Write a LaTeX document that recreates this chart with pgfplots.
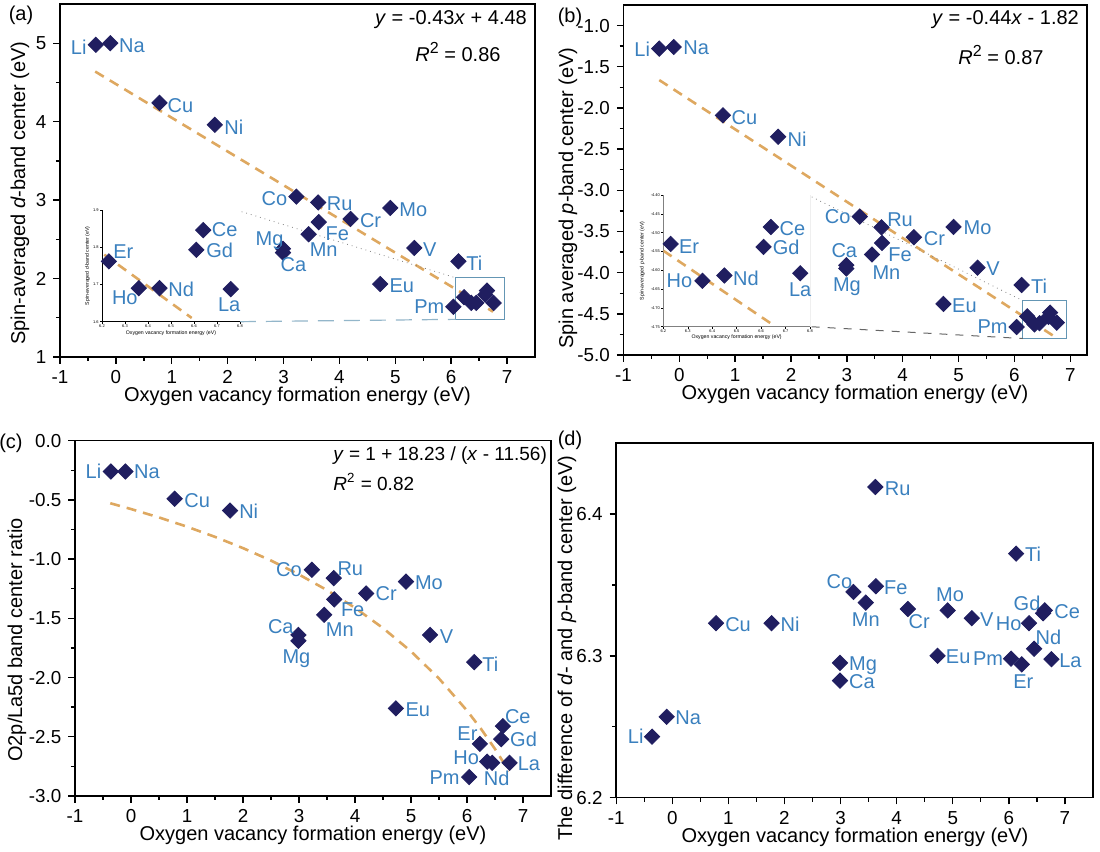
\documentclass[border=0pt]{standalone}
\usepackage{fontspec}
\setmainfont{Liberation Sans}
\usepackage{pgfplots}
\usepackage{pgfplotstable}
\pgfplotsset{compat=1.18}
\definecolor{navy}{RGB}{32,30,96}
\definecolor{lblue}{RGB}{58,128,190}
\definecolor{tan}{RGB}{222,168,96}
\definecolor{boxc}{RGB}{100,150,180}

% ---------- data ----------
\pgfplotstableread{
lab x y dx dy
Li -0.36 4.98 -8.5 -1
Na -0.10 5.00 10.8 -1
Cu 0.78 4.24 10.5 -1.5
Ni 1.77 3.96 9.5 -1
Co 3.23 3.045 -11 -0.8
Ru 3.62 2.97 10.8 -0.5
Fe 3.63 2.72 9.3 -5.8
Mn 3.45 2.565 7.5 -7.8
Cr 4.20 2.76 10 -0.8
Mo 4.91 2.90 11.5 -0.8
Mg 2.99 2.38 -6.7 4.2
Ca 2.99 2.33 5.2 -5.8
V 5.34 2.39 7.8 -0.8
Ti 6.13 2.22 8 -0.8
Eu 4.73 1.93 10.8 -0.8
Pm 6.04 1.64 -12 0
}\dataA
\pgfplotstableread{
lab x y dx dy
Er 6.23 1.762 7.2 5
Ho 6.36 1.69 -7 -5
Nd 6.45 1.69 10.8 -0.8
Gd 6.61 1.793 11.7 -0.3
Ce 6.64 1.846 10.7 0
La 6.76 1.6875 -0.8 -7.8
}\clusterA
\pgfplotstableread{
lab x y dx dy
Li -0.36 -1.28 -8.5 -0.5
Na -0.10 -1.26 11.2 -0.5
Cu 0.78 -2.09 10.8 -1
Ni 1.77 -2.35 9.5 -1
Co 3.23 -3.32 -11 0
Ru 3.62 -3.45 9.3 4
Fe 3.63 -3.64 9 -5.7
Mn 3.45 -3.78 7.2 -8.8
Ca 2.99 -3.91 -1 7.5
Mg 2.99 -3.95 0.3 -9.2
Cr 4.20 -3.57 10.3 -0.5
Mo 4.91 -3.445 12 -0.5
V 5.34 -3.94 7.8 -0.5
Ti 6.13 -4.15 8.7 -0.8
Eu 4.73 -4.38 10.5 -0.7
Pm 6.04 -4.66 -12 0.3
}\dataB
\pgfplotstableread{
lab x y dx dy
Er 6.23 -4.53 9.2 -1.3
Ho 6.36 -4.628 -11.5 0
Nd 6.45 -4.614 10.8 -1.2
Gd 6.61 -4.538 11.3 -0.3
Ce 6.64 -4.485 10.8 -0.8
La 6.76 -4.608 0 -8.2
}\clusterB
\pgfplotstableread{
lab x y dx dy
Li -0.36 -0.26 -8.7 0
Na -0.10 -0.26 10.8 -0.3
Cu 0.78 -0.49 11.3 -1
Ni 1.77 -0.59 9.3 -0.3
Co 3.23 -1.09 -11.5 0
Ru 3.62 -1.16 8.3 4.7
Fe 3.63 -1.34 9.2 -5.3
Mn 3.45 -1.47 7.8 -7.5
Cr 4.20 -1.29 10 -0.3
Mo 4.91 -1.19 11.5 -0.3
Ca 2.99 -1.64 -8.8 4.2
Mg 2.99 -1.69 -1 -8.7
V 5.34 -1.64 8.2 -0.8
Ti 6.13 -1.87 8 -0.8
Eu 4.73 -2.26 11 -0.7
Ce 6.64 -2.41 7.5 5
Gd 6.61 -2.52 11.2 0
Er 6.23 -2.56 -6.2 5
Ho 6.36 -2.71 -10.5 1.8
Nd 6.45 -2.72 2.2 -8
La 6.76 -2.72 9.7 -0.3
Pm 6.04 -2.84 -12.3 -0.3
}\dataC
\pgfplotstableread{
lab x y dx dy
Li -0.36 6.243 -8.2 0
Na -0.10 6.257 10.8 -0.5
Cu 0.78 6.323 11 -0.8
Ni 1.77 6.323 9.3 -0.5
Co 3.23 6.345 -7 5
Ru 3.62 6.419 11.2 -0.7
Fe 3.63 6.349 10 -0.8
Mn 3.45 6.3375 0 -8.7
Cr 4.20 6.333 5.7 -6.3
Mo 4.91 6.332 1.2 7.8
Ca 2.99 6.2825 11 -0.5
Mg 2.99 6.295 11.5 -1.2
V 5.34 6.3265 7.5 -0.8
Ti 6.13 6.372 8.5 -0.5
Eu 4.73 6.300 10.3 -0.7
Gd 6.61 6.330 -8 5
Ce 6.64 6.332 11.2 -0.7
Er 6.23 6.294 0.8 -8.7
Ho 6.36 6.323 -10.2 -0.3
Nd 6.45 6.305 7.2 5.5
La 6.76 6.2976 9.5 -0.5
Pm 6.04 6.298 -11.5 0
}\dataD

\pgfplotsset{
  mainax/.style={
    scale only axis, anchor=south west,
    tick align=outside, tick pos=left,
    axis line style={line width=0.8pt},
    every tick/.style={black, line width=0.7pt},
    major tick length=3.3pt, minor tick length=2pt,
    tick label style={font=\fontsize{9.4}{11}\selectfont},
    /pgf/number format/assume math mode=true,
    xtick={-1,0,...,7}, minor x tick num=1,
  },
  insax/.style={
    scale only axis, anchor=south west,
    axis lines*=left, tick align=outside,
    axis line style={line width=0.3pt},
    every tick/.style={black, line width=0.25pt},
    major tick length=1pt, minor tick length=0.6pt,
    tick label style={font=\fontsize{2}{2.4}\selectfont, inner sep=0.5pt},
    label style={font=\fontsize{2.6}{3}\selectfont},
    /pgf/number format/assume math mode=true,
    xtick={6.2,6.3,...,6.81},
    xticklabel style={/pgf/number format/.cd, fixed, fixed zerofill, precision=1},
  },
  pts/.style={only marks, mark=square*, mark size=2.7pt,
    mark options={rotate=45, fill=navy, draw=navy}, color=navy},
  lbl/.style={pts,
    nodes near coords, point meta=explicit symbolic,
    visualization depends on={\thisrow{dx}\as\ldx},
    visualization depends on={\thisrow{dy}\as\ldy},
    every node near coord/.style={anchor=center, xshift=\ldx pt, yshift=\ldy pt,
      text=lblue, font=\fontsize{10}{12}\selectfont, inner sep=0pt}},
  fit/.style={tan, line width=1.3pt, dash pattern=on 5pt off 3.5pt},
}
\newcommand{\Rsq}{\textit{R}\raisebox{0.38em}{\fontsize{8}{8}\selectfont 2}}

\begin{document}
\begin{tikzpicture}
\useasboundingbox (0,0) rectangle (550pt,426pt);

% ================= (a) =================
\begin{axis}[mainax, at={(30pt,247.5pt)}, width=237.5pt, height=176.5pt,
  xmin=-1, xmax=7.5, ymin=1, ymax=5.5, ytick={1,2,3,4,5}, minor y tick num=1]
\addplot[fit] coordinates {(-0.37,4.639) (6.75,1.5775)};
\addplot[lbl] table[x=x, y=y, meta=lab] {\dataA};
\addplot[pts] table[x=x, y=y] {\clusterA};
\draw[boxc, line width=0.6pt] (axis cs:6.08,1.48) rectangle (axis cs:6.95,2.01);
\draw[gray, line width=0.4pt, dotted] (axis cs:2.25,2.853) -- (axis cs:6.08,2.01);
\draw[boxc!70, line width=0.6pt, dash pattern=on 8pt off 5pt] (axis cs:2.22,1.45) -- (axis cs:6.08,1.48);
\end{axis}
\begin{axis}[insax, at={(51pt,265.15pt)}, width=69pt, height=55.85pt,
  xmin=6.2, xmax=6.8, ymin=1.6, ymax=1.9, ytick={1.6,1.7,1.8,1.9},
  yticklabel style={/pgf/number format/.cd, fixed, fixed zerofill, precision=1},
  xlabel={Oxygen vacancy formation energy (eV)},
  ylabel={Spin-averaged \textit{d}-band center (eV)},
  xlabel style={yshift=2.5pt}, ylabel style={yshift=-2.5pt}]
\addplot[tan, line width=1.3pt, dash pattern=on 5pt off 3.5pt] coordinates {(6.21,1.78) (6.59,1.61)};
\addplot[lbl] table[x=x, y=y, meta=lab] {\clusterA};
\end{axis}

% ================= (b) =================
\begin{axis}[mainax, at={(311.75pt,248.5pt)}, width=231.75pt, height=175pt,
  xmin=-1, xmax=7.3, ymin=-5, ymax=-0.75, ytick={-5,-4.5,...,-0.9}, minor y tick num=1,
  yticklabel style={/pgf/number format/.cd, fixed, fixed zerofill, precision=1}]
\addplot[fit] coordinates {(-0.36,-1.6616) (6.75,-4.79)};
\addplot[lbl] table[x=x, y=y, meta=lab] {\dataB};
\addplot[pts] table[x=x, y=y] {\clusterB};
\draw[boxc, line width=0.6pt] (axis cs:6.15,-4.80) rectangle (axis cs:6.94,-4.34);
\draw[gray, line width=0.4pt, dotted] (axis cs:2.37,-3.08) -- (axis cs:6.15,-4.34);
\draw[gray!80!black, line width=0.5pt, dash pattern=on 4pt off 4pt] (axis cs:2.37,-4.657) -- (axis cs:6.15,-4.80);
\end{axis}
\begin{axis}[insax, at={(331.65pt,262.65pt)}, width=73.35pt, height=65.85pt,
  xmin=6.2, xmax=6.8, ymin=-4.75, ymax=-4.40, ytick={-4.75,-4.70,...,-4.39},
  axis line style={line width=0.4pt, gray},
  yticklabel style={/pgf/number format/.cd, fixed, fixed zerofill, precision=2},
  xlabel={Oxygen vacancy formation energy (eV)},
  ylabel={Spin-averaged \textit{p}-band center (eV)},
  xlabel style={yshift=3pt}, ylabel style={yshift=-1pt}]
\addplot[tan, line width=1.3pt, dash pattern=on 5pt off 3.5pt] coordinates {(6.2,-4.548) (6.646,-4.744)};
\addplot[lbl] table[x=x, y=y, meta=lab] {\clusterB};
\draw[gray, line width=0.5pt] (axis description cs:1,0) -- (axis description cs:1,1);
\end{axis}

% ================= (c) =================
\begin{axis}[mainax, at={(37.5pt,28pt)}, width=238pt, height=177.65pt,
  xmin=-1, xmax=7.5, ymin=-3, ymax=0, ytick={-3,-2.5,...,0.1}, minor y tick num=1,
  yticklabel style={/pgf/number format/.cd, fixed, fixed zerofill, precision=1}]
\addplot[fit] coordinates {(-0.37,-0.528) (0,-0.577) (0.5,-0.648) (1,-0.726) (1.5,-0.812)
  (2,-0.907) (2.5,-1.012) (3,-1.130) (3.5,-1.262) (4,-1.411) (4.5,-1.582) (5,-1.779)
  (5.5,-2.008) (6,-2.279) (6.25,-2.433) (6.5,-2.603) (6.75,-2.790)};
\addplot[lbl] table[x=x, y=y, meta=lab] {\dataC};
\end{axis}

% ================= (d) =================
\begin{axis}[mainax, at={(308.1pt,27.15pt)}, width=238.4pt, height=177.35pt,
  xmin=-1, xmax=7.5, ymin=6.2, ymax=6.45, ytick={6.2,6.3,6.4}, minor y tick num=1,
  yticklabel style={/pgf/number format/.cd, fixed, fixed zerofill, precision=1}]
\addplot[lbl] table[x=x, y=y, meta=lab] {\dataD};
\end{axis}

% ---------- labels ----------
\begin{scope}[every node/.style={font=\fontsize{10}{12}\selectfont, inner sep=0pt}]
\node at (10.5pt,418.5pt) {(a)};
\node at (285pt,417.5pt) {(b)};
\node at (5.5pt,204.5pt) {(c)};
\node at (285pt,206pt) {(d)};
\node[rotate=90] at (10pt,329.5pt) {Spin-averaged \textit{d}-band center (eV)};
\node[rotate=90] at (284pt,327pt) {Spin averaged \textit{p}-band center (eV)};
\node[rotate=90] at (8.5pt,106pt) {O2p/La5d band center ratio};
\node[rotate=90] at (283.5pt,102pt) {The difference of \textit{d}- and \textit{p}-band center (eV)};
\node[anchor=base] at (148.75pt,225.15pt) {Oxygen vacancy formation energy (eV)};
\node[anchor=base] at (427.5pt,226.15pt) {Oxygen vacancy formation energy (eV)};
\node[anchor=base] at (156.5pt,5.65pt) {Oxygen vacancy formation energy (eV)};
\node[anchor=base] at (427.5pt,4.65pt) {Oxygen vacancy formation energy (eV)};
\node at (225.5pt,416pt) {\textit{y} = -0.43\textit{x} + 4.48};
\node at (229pt,400pt) {\Rsq\ = 0.86};
\node at (502.75pt,416pt) {\textit{y} = -0.44\textit{x} - 1.82};
\node at (500.5pt,398.5pt) {\Rsq\ = 0.87};
\node[anchor=west, font=\fontsize{9.5}{11}\selectfont] at (166.5pt,198.15pt) {\textit{y} = 1 + 18.23 / (\textit{x} - 11.56)};
\node[anchor=west, font=\fontsize{9.5}{11}\selectfont] at (166.5pt,185.15pt) {\textit{R}\textsuperscript{2} = 0.82};
\end{scope}
\end{tikzpicture}
\end{document}
